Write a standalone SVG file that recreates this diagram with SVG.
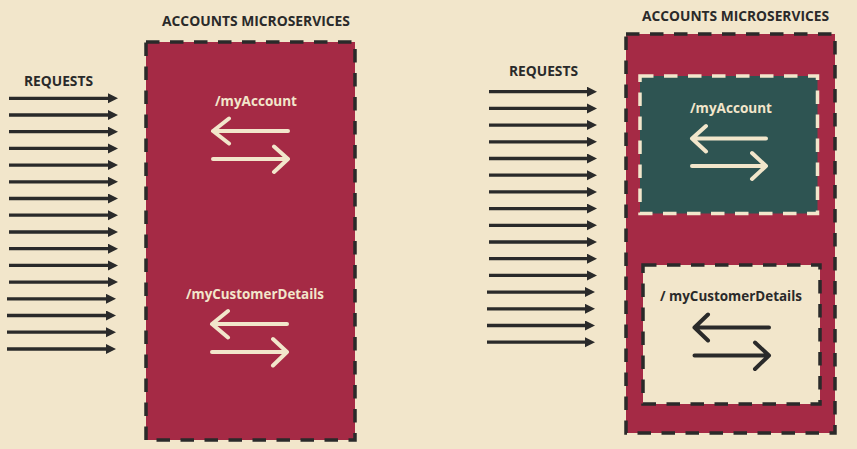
<svg xmlns="http://www.w3.org/2000/svg" width="857" height="449" viewBox="0 0 857 449">
  <defs>
    <marker id="req-head" markerUnits="userSpaceOnUse" markerWidth="11" markerHeight="11" refX="0" refY="5" orient="auto">
      <path d="M0,0 L10,5 L0,10 Z" fill="#2a2a2a"/>
    </marker>
    <style>
      .bg { fill: #f2e6cb; }
      .title { font-family: "Open Sans", "Liberation Sans", sans-serif; font-weight: 700; font-size: 15px; fill: #2a2a2a; }
      .label { font-family: "Open Sans", "Liberation Sans", sans-serif; font-weight: 700; font-size: 14px; }
      .req { stroke: #2a2a2a; stroke-width: 3.3; fill: none; marker-end: url(#req-head); }
      .outer { fill: #a52a45; stroke: #2a2a2a; stroke-width: 3.5; stroke-dasharray: 13.5 10.5; }
      .swap { fill: none; stroke-width: 4; stroke-linecap: round; stroke-linejoin: round; }
      .light { stroke: #f2e6cb; }
      .dark { stroke: #2a2a2a; }
    </style>
  </defs>

  <rect class="bg" x="0" y="0" width="857" height="449"/>

  <!-- left side: single service box -->
  <g id="left-title">
    <text class="title" x="162" y="26" textLength="188" lengthAdjust="spacingAndGlyphs">ACCOUNTS MICROSERVICES</text>
  </g>
  <g id="left-requests-label">
    <text class="title" x="24" y="86" textLength="69" lengthAdjust="spacingAndGlyphs">REQUESTS</text>
  </g>
  <g id="left-service">
    <rect class="outer" x="146" y="42" width="209" height="398"/>
    <g id="left-myaccount">
      <text class="label" x="215" y="106" fill="#f2e6cb" textLength="82" lengthAdjust="spacingAndGlyphs">/myAccount</text>
      <path class="swap light" d="M288,131 H213 M229,118.5 L213,131 L229,143.5"/>
      <path class="swap light" d="M213,159 H288 M274,146.5 L288,159 L274,172"/>
    </g>
    <g id="left-mycustomerdetails">
      <text class="label" x="186" y="299" fill="#f2e6cb" textLength="138" lengthAdjust="spacingAndGlyphs">/myCustomerDetails</text>
      <path class="swap light" d="M287,324 H212 M228,311 L212,324 L228,337.5"/>
      <path class="swap light" d="M212,352 H287 M273,339 L287,352 L273,365.5"/>
    </g>
  </g>

  <!-- right side: service split into two inner boxes -->
  <g id="right-title">
    <text class="title" x="642" y="21" textLength="187" lengthAdjust="spacingAndGlyphs">ACCOUNTS MICROSERVICES</text>
  </g>
  <g id="right-requests-label">
    <text class="title" x="509" y="76" textLength="69" lengthAdjust="spacingAndGlyphs">REQUESTS</text>
  </g>
  <g id="right-service">
    <rect class="outer" x="626" y="34" width="209" height="399"/>
    <g id="right-myaccount">
      <rect x="640" y="76" width="177.5" height="137.5" fill="#2e5452" stroke="#f2e6cb" stroke-width="3.5" stroke-dasharray="13.5 10.5"/>
      <text class="label" x="690" y="113" fill="#f2e6cb" textLength="82" lengthAdjust="spacingAndGlyphs">/myAccount</text>
      <path class="swap light" d="M766,138.5 H692 M706,126 L692,138.5 L706,151.5"/>
      <path class="swap light" d="M692,166 H766 M752,153 L766,166 L752,179"/>
    </g>
    <g id="right-mycustomerdetails">
      <rect x="643" y="265" width="177" height="139" fill="#f2e6cb" stroke="#2a2a2a" stroke-width="3.5" stroke-dasharray="13.5 10.5"/>
      <text class="label" x="660" y="301" fill="#2a2a2a" textLength="142" lengthAdjust="spacingAndGlyphs">/ myCustomerDetails</text>
      <path class="swap dark" d="M769,327.5 H694.5 M708,314.5 L694.5,327.5 L708,340.5"/>
      <path class="swap dark" d="M694.5,355.5 H769 M755,342.5 L769,355.5 L755,369"/>
    </g>
  </g>

  <!-- incoming request arrows -->
  <g id="connectors">
    <g id="left-requests">
      <path class="req" d="M9,98.3 H108"/>
      <path class="req" d="M9,115 H108"/>
      <path class="req" d="M9,131.7 H108"/>
      <path class="req" d="M9,148.4 H108"/>
      <path class="req" d="M9,165.1 H108"/>
      <path class="req" d="M9,181.8 H108"/>
      <path class="req" d="M9,198.5 H108"/>
      <path class="req" d="M9,215.2 H108"/>
      <path class="req" d="M9,232 H108"/>
      <path class="req" d="M9,248.7 H108"/>
      <path class="req" d="M9,265.4 H108"/>
      <path class="req" d="M9,282.1 H108"/>
      <path class="req" d="M7,298.8 H106"/>
      <path class="req" d="M7,315.5 H106"/>
      <path class="req" d="M7,332.2 H106"/>
      <path class="req" d="M7,349 H106"/>
    </g>
    <g id="right-requests">
      <path class="req" d="M489,91.7 H587"/>
      <path class="req" d="M489,108.4 H587"/>
      <path class="req" d="M489,125.1 H587"/>
      <path class="req" d="M489,141.8 H587"/>
      <path class="req" d="M489,158.5 H587"/>
      <path class="req" d="M489,175.2 H587"/>
      <path class="req" d="M489,191.9 H587"/>
      <path class="req" d="M489,208.6 H587"/>
      <path class="req" d="M489,225.3 H587"/>
      <path class="req" d="M489,242 H587"/>
      <path class="req" d="M489,258.7 H587"/>
      <path class="req" d="M489,275.4 H587"/>
      <path class="req" d="M487,292.1 H585"/>
      <path class="req" d="M487,308.8 H585"/>
      <path class="req" d="M487,325.5 H585"/>
      <path class="req" d="M487,342.2 H585"/>
    </g>
  </g>
</svg>
